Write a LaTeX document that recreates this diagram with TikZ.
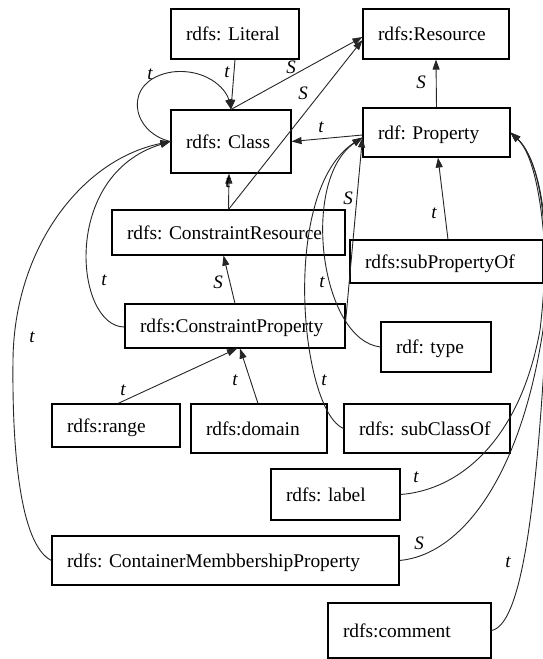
\documentclass[tikz,border=0pt]{standalone}
\usepackage{fontspec}
\setmainfont{Liberation Serif}
\usetikzlibrary{arrows.meta}
\begin{document}
\frenchspacing
\begin{tikzpicture}[x=1pt,y=-1pt,
  box/.style={draw=black, line width=1.1pt, rectangle, inner xsep=15pt, inner ysep=0pt,
              align=left, font=\fontsize{19.4}{22}\selectfont, text height=13.3pt, text depth=0pt},
  lbl/.style={font=\fontsize{19}{22}\selectfont\itshape, inner sep=0pt},
  conn/.style={draw=black!85, line width=0.9pt, -{Triangle[length=10pt,width=7pt]}}]

\fill[white] (0,0) rectangle (542,659);
\useasboundingbox (0,0) rectangle (542,659);

% classes and properties
\node[box, text width=98pt,  minimum height=50pt] (lit)    at (235,34)      {rdfs: Literal};
\node[box, text width=116pt, minimum height=50pt] (res)    at (436,34)      {rdfs:Resource};
\node[box, text width=90pt,  minimum height=63pt] (cls)    at (231,141.5)   {rdfs: Class};
\node[box, text width=117pt, minimum height=49pt] (prop)   at (436.5,132.5) {rdf: Property};
\node[box, text width=203pt, minimum height=45pt] (cres)   at (228.5,232.5) {rdfs: ConstraintResource};
\node[box, text width=163pt, minimum height=43pt] (subp)   at (446.5,261.5) {rdfs:subPropertyOf};
\node[box, text width=190pt, minimum height=44pt] (cprop)  at (235,326)     {rdfs:ConstraintProperty};
\node[box, text width=80pt,  minimum height=50pt] (type)   at (436,347)     {rdf: type};
\node[box, text width=98pt,  minimum height=43pt] (range)  at (116,425.5)   {rdfs:range};
\node[box, text width=106pt, minimum height=49pt] (domain) at (259,428.5)   {rdfs:domain};
\node[box, text width=136pt, minimum height=49pt] (subc)   at (427,428.5)   {rdfs: subClassOf};
\node[box, text width=99pt,  minimum height=51pt] (label)  at (335.5,494.5) {rdfs: label};
\node[box, text width=317pt, minimum height=49pt] (cont)   at (225.5,560.5) {rdfs: ContainerMembbershipProperty};
\node[box, text width=133pt, minimum height=55pt] (comm)   at (409.5,630.5) {rdfs:comment};

% straight connectors
\draw[conn] (lit.south) -- (cls.north);
\draw[conn] (cls.north) -- ([yshift=-3pt]res.west);
\draw[conn] (cres.north) -- ([yshift=-6pt]res.west);
\draw[conn] ([yshift=-2.5pt]prop.west) -- (cls.east);
\draw[conn] (prop.north) -- (res.south);
\draw[conn] ([xshift=1.5pt]subp.north) -- ([xshift=1.5pt]prop.south);
\draw[conn] (cres.north) -- ([xshift=-2pt]cls.south);
\draw[conn] (cprop.north) -- ([xshift=-5pt]cres.south);
\draw[conn] ([xshift=2pt]range.north) -- ([xshift=2pt]cprop.south);
\draw[conn] ([xshift=-1pt]domain.north) -- ([xshift=5pt]cprop.south);
\draw[conn] ([yshift=4pt]cprop.east) -- ([yshift=-5pt]prop.west);

% curved connectors on the left
\draw[conn] (cls.west) .. controls (130,132) and (122,80) .. (172,72)
            .. controls (205,68) and (226,88) .. (cls.north);
\draw[conn] ([yshift=-1pt]cprop.west) .. controls (75,327) and (60,175) .. (cls.west);
\draw[conn] (cont.west) .. controls (20,545) and (12,450) .. (13,360)
            .. controls (14,250) and (80,160) .. (cls.west);

% curved connectors into rdf: Property from the left
\draw[conn] (type.west) .. controls (320,340) and (300,180) .. ([yshift=-5pt]prop.west);
\draw[conn] (subc.west) .. controls (300,410) and (280,190) .. ([yshift=-5pt]prop.west);

% curved connectors into rdf: Property from the right
\draw[conn] (label.east) .. controls (460,490) and (520,440) .. (540,330)
            .. controls (552,230) and (540,160) .. (prop.east);
\draw[conn] (cont.east) .. controls (460,555) and (520,480) .. (543,330)
            .. controls (553,230) and (540,160) .. (prop.east);
\draw[conn] (comm.east) .. controls (520,625) and (535,520) .. (545,350)
            .. controls (550,250) and (540,160) .. (prop.east);

% edge labels
\node[lbl] (t1)  at (227,72)  {t};
\node[lbl] (t2)  at (150,74)  {t};
\node[lbl] (s1)  at (291,67)  {S};
\node[lbl] (s2)  at (303,93)  {S};
\node[lbl] (t3)  at (321,127) {t};
\node[lbl] (s3)  at (421,82)  {S};
\node[lbl] (t4)  at (434,213) {t};
\node[lbl] (t5)  at (228,182) {t};
\node[lbl] (s4)  at (218,282) {S};
\node[lbl] (t6)  at (123,390) {t};
\node[lbl] (t7)  at (235,380) {t};
\node[lbl] (t8)  at (104,280) {t};
\node[lbl] (t9)  at (32,337)  {t};
\node[lbl] (s5)  at (348,198) {S};
\node[lbl] (t10) at (322,282) {t};
\node[lbl] (t11) at (324,380) {t};
\node[lbl] (t12) at (416,477) {t};
\node[lbl] (s6)  at (419,543) {S};
\node[lbl] (t13) at (508,562) {t};
\end{tikzpicture}
\end{document}
